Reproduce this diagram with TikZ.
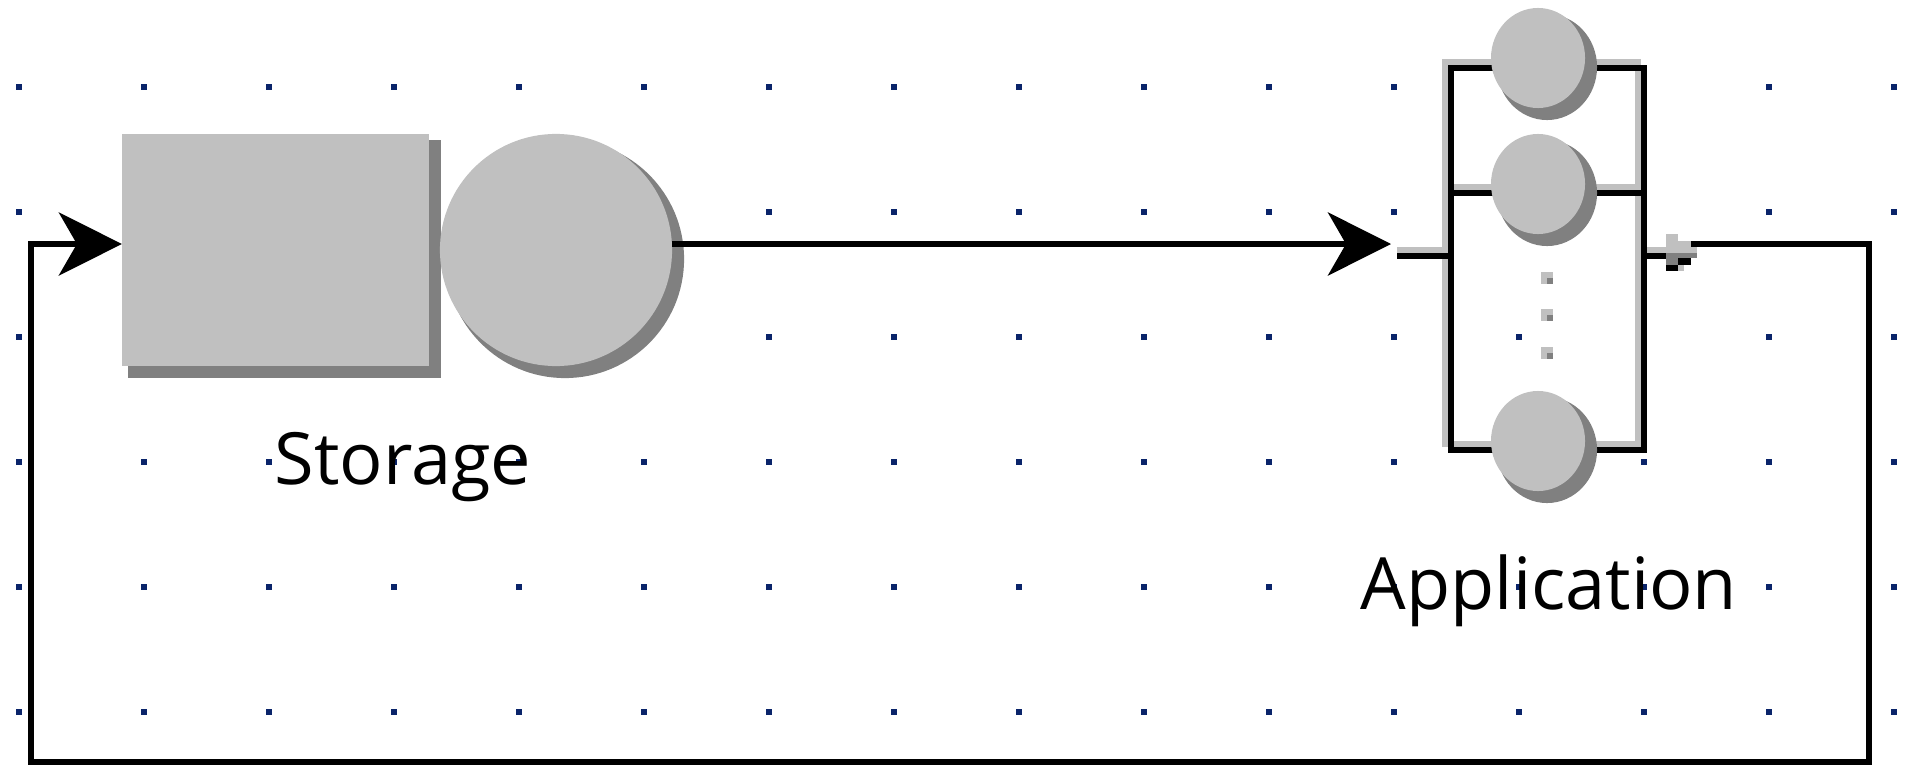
\documentclass[tikz,border=0pt]{standalone}
\usepackage{fontspec}
\setmainfont{Open Sans}
\usetikzlibrary{arrows.meta,shadows,shapes.geometric}
\definecolor{facegray}{RGB}{192,192,192}
\definecolor{shadegray}{RGB}{128,128,128}
\definecolor{gridblue}{RGB}{10,36,106}

\begin{document}
\begin{tikzpicture}[
		x=0.01cm, y=-0.01cm,
		line width=0.06cm,
		raised/.style={fill=facegray, draw=none, inner sep=0pt, outer sep=0pt,
				general shadow={fill=shadegray, draw=shadegray, line width=0.06cm,
						shadow xshift=0.09cm, shadow yshift=-0.09cm}},
		queuebox/.style={raised, rectangle, minimum width=3.07cm, minimum height=2.32cm},
		server/.style={raised, circle, minimum size=2.32cm},
		minisrv/.style={raised, ellipse, minimum width=0.94cm, minimum height=1cm},
		frame/.style={rectangle, draw, inner sep=0pt, outer sep=0pt, minimum width=1.93cm, minimum height=3.82cm},
		caption/.style={anchor=base, inner sep=0pt, font=\fontsize{20.5}{24}\selectfont},
		flow/.style={-{Stealth[length=0.63cm, width=0.63cm, inset=0.18cm]}},
		griddot/.style={fill=gridblue}
	]
	\useasboundingbox (0,0) rectangle (1913,779);

	% grid
	\foreach \i in {0,...,15}
	\foreach \j in {0,...,5}
	\fill[griddot] ({16+125*\i},{84+125*\j}) rectangle +(6,6);

	\coordinate (inTip) at (1391,244);
	\coordinate (edgeIn) at (1397,250);
	\coordinate (stubIn) at (1397,256);
	\coordinate (edgeMid) at (1445,187);
	\coordinate (midIn) at (1451,193);
	\coordinate (stubOut) at (1666,256);
	\coordinate (outB) at (1691,244);
	\coordinate (loopSE) at (1869,762);
	\coordinate (loopSW) at (31,762);

	% application frame, light edge first
	\node[frame, draw=facegray] (appedge) at (1541.5,253) {};
	\draw[facegray] (edgeMid) -- (edgeMid -| appedge.east);
	\draw[facegray] (edgeIn) -- (edgeIn -| appedge.west);
	\draw[facegray] (appedge.east |- edgeIn) -- (stubOut |- edgeIn);

	\node[frame] (appframe) at (1547.5,259) {};
	\draw (midIn) -- (midIn -| appframe.east);
	\draw (stubIn) -- (stubIn -| appframe.west);
	\draw (appframe.east |- stubIn) -- (stubOut);

	% small output tip
	\fill[facegray] (1666,234) rectangle (1678,241);
	\fill[facegray] (1666,241) rectangle (1691,247);
	\fill[facegray] (1647,247) rectangle (1697,253);
	\fill[shadegray] (1666,253) rectangle (1697,258);
	\fill[shadegray] (1666,258) rectangle (1678,265);
	\fill (1678,258) rectangle (1691,265);
	\fill (1666,265) rectangle (1678,271);
	\fill[facegray] (1678,265) rectangle (1684,271);

	% servers of the application
	\node[minisrv] (srvA) at (1538,58) {};
	\node[minisrv] (srvB) at (1538,184) {};
	\node[minisrv] (srvC) at (1538,441) {};
	\foreach \y in {272,309,347} {
			\fill[facegray] (1541,\y) rectangle +(12,12);
			\fill[shadegray] (1547,\y+6) rectangle +(6,6);
		}

	% storage
	\node[queuebox] (queue) at (275.5,250) {};
	\node[server] (server) at (556,250) {};

	\draw[flow] (server.east |- inTip) -- (inTip);
	\draw[flow] (outB) -| (loopSE) -- (loopSW) |- (queue.west |- outB);

	\node[caption] (storagelbl) at (403,484) {Storage};
	\node[caption] (applbl) at (1549,609) {Application};
\end{tikzpicture}
\end{document}
